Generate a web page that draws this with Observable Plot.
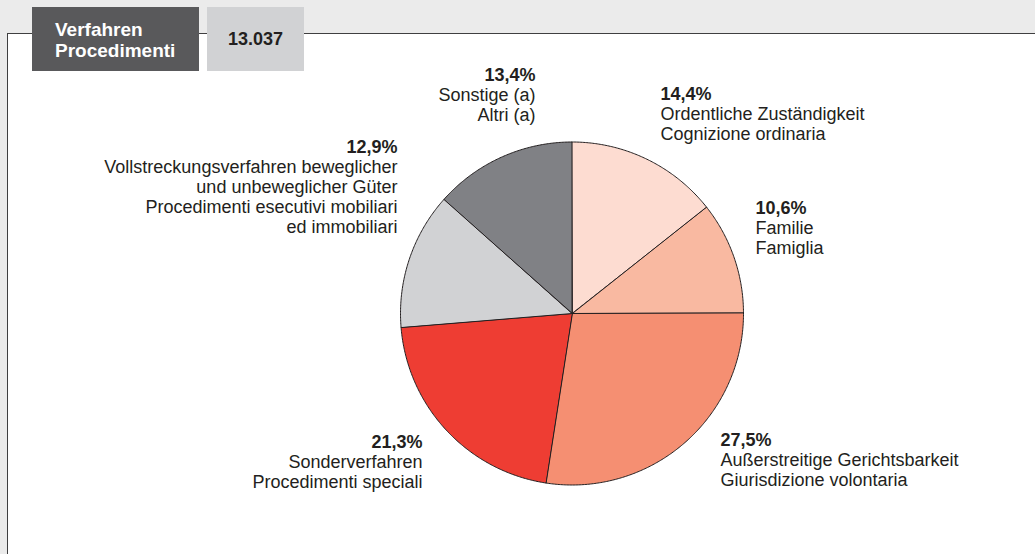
<!DOCTYPE html>
<html>
<head>
<meta charset="utf-8">
<script src="https://cdn.jsdelivr.net/npm/d3@7"></script>
<script src="https://cdn.jsdelivr.net/npm/@observablehq/plot@0.6"></script>
<style>
  html, body { margin: 0; padding: 0; }
  body { width: 1035px; height: 554px; background: #ebebeb; position: relative; overflow: hidden;
         font-family: "Liberation Sans", Arial, sans-serif; }
  #frame { position: absolute; left: 7px; top: 33px; right: 0; bottom: 0; background: #ffffff;
           border-left: 1.5px solid #3f3f40; border-top: 1.5px solid #3f3f40; box-sizing: border-box; }
  #chart { position: absolute; left: 0; top: 0; }
  .hbox { position: absolute; top: 7px; height: 64px; box-sizing: border-box; font-weight: bold; font-size: 18px; }
  #hdark { left: 32px; width: 167px; background: #59595b; color: #ffffff; padding: 12px 0 0 23px; line-height: 21px; font-size: 19px; }
  #hlight { left: 207px; width: 97px; background: #d1d2d4; color: #231f20; text-align: center; line-height: 64px; }
</style>
</head>
<body>
<div id="frame"></div>
<div id="chart"></div>
<div class="hbox" id="hdark">Verfahren<br>Procedimenti</div>
<div class="hbox" id="hlight">13.037</div>
<script>
// ---- data (clockwise from 12 o'clock) ----
const values = [14.4, 10.6, 27.5, 21.3, 12.9, 13.4];
const namesDe = ["Ordentliche Zuständigkeit", "Familie", "Außerstreitige Gerichtsbarkeit", "Sonderverfahren",
                 "Vollstreckungsverfahren beweglicher\nund unbeweglicher Güter", "Sonstige (a)"];
const namesIt = ["Cognizione ordinaria", "Famiglia", "Giurisdizione volontaria", "Procedimenti speciali",
                 "Procedimenti esecutivi mobiliari\ned immobiliari", "Altri (a)"];
const colors = ["#fddcd1", "#f9b9a1", "#f58f72", "#ee3d33", "#d1d2d4", "#808185"];

// ---- layout ----
const W = 1035, H = 554;
const cx = 572, cy = 313.5, R = 171.5;
const FS = 18, LH = 20;
// label anchor (px offset from pie centre to first baseline) and alignment
const labelLayout = [
  {dx: 88, dy: -214.5, align: "start"},
  {dx: 183, dy: -100.5, align: "start"},
  {dx: 148, dy: 131.5, align: "start"},
  {dx: -150, dy: 133.5, align: "end"},
  {dx: -175, dy: -161.5, align: "end"},
  {dx: -37, dy: -233.5, align: "end"}
];

const total = d3.sum(values);
const names = namesDe.map((d, i) => d + " / " + namesIt[i]);

// slice outlines
const pts = [];
let acc = 0;
values.forEach((v, i) => {
  const a0 = acc / total * 2 * Math.PI;
  acc += v;
  const a1 = acc / total * 2 * Math.PI;
  const n = Math.max(2, Math.ceil((a1 - a0) / (Math.PI / 360)));
  for (let k = 0; k <= n; k++) {
    const a = a0 + (a1 - a0) * k / n;
    pts.push({name: names[i], x: Math.sin(a), y: Math.cos(a)});
  }
});

// label lines
const fmt = v => v.toFixed(1).replace(".", ",") + "%";
const lines = [];
values.forEach((v, i) => {
  const L = labelLayout[i];
  const rows = [{t: fmt(v), bold: true}]
    .concat(namesDe[i].split("\n").map(t => ({t, bold: false})))
    .concat(namesIt[i].split("\n").map(t => ({t, bold: false})));
  rows.forEach((r, k) => {
    lines.push({text: r.t, bold: r.bold, align: L.align, x: L.dx / R, y: -(L.dy + k * LH) / R});
  });
});

const textMark = (bold, align) => Plot.text(lines.filter(d => d.bold === bold && d.align === align), {
  x: "x", y: "y", text: "text", textAnchor: align, lineAnchor: "bottom",
  fontWeight: bold ? "bold" : "normal", fontSize: FS, fill: "#231f20",
  fontFamily: "Liberation Sans, Arial, sans-serif"
});

const chart = Plot.plot({
  width: W, height: H, margin: 0,
  style: {background: "transparent", overflow: "visible"},
  x: {domain: [-1, 1], range: [cx - R, cx + R], axis: null},
  y: {domain: [-1, 1], range: [cy + R, cy - R], axis: null},
  color: {domain: names, range: colors},
  marks: [
    Plot.area(pts, {x1: "x", y1: "y", x2: () => 0, y2: () => 0, z: "name", fill: "name",
                    stroke: "#231f20", strokeWidth: 1, strokeLinejoin: "round", curve: "linear"}),
    textMark(true, "start"), textMark(true, "end"),
    textMark(false, "start"), textMark(false, "end")
  ]
});
document.getElementById("chart").appendChild(chart);
</script>
</body>
</html>
